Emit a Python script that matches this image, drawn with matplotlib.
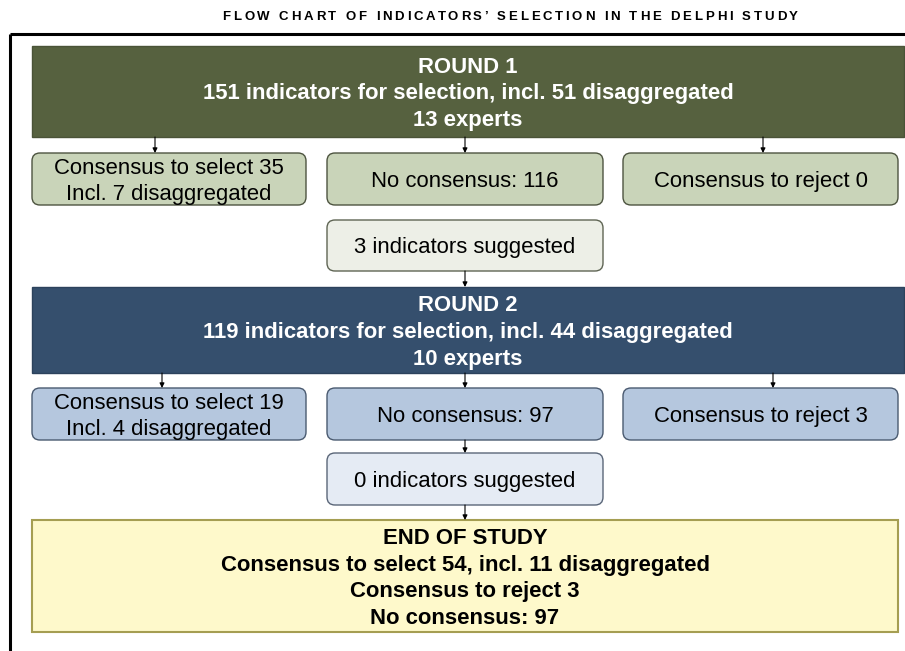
import matplotlib.pyplot as plt
from matplotlib.patches import FancyBboxPatch
from matplotlib.font_manager import FontProperties

plt.rcParams['font.family'] = ['Liberation Sans', 'DejaVu Sans']

title = "FLOW CHART OF INDICATORS\u2019 SELECTION IN THE DELPHI STUDY"

round1 = ["ROUND 1", "151 indicators for selection, incl. 51 disaggregated", "13 experts"]
round1_out = ["Consensus to select 35\nIncl. 7 disaggregated", "No consensus: 116", "Consensus to reject 0"]
round1_new = "3 indicators suggested"

round2 = ["ROUND 2", "119 indicators for selection, incl. 44 disaggregated", "10 experts"]
round2_out = ["Consensus to select 19\nIncl. 4 disaggregated", "No consensus: 97", "Consensus to reject 3"]
round2_new = "0 indicators suggested"

end_text = ["END OF STUDY", "Consensus to select 54, incl. 11 disaggregated",
            "Consensus to reject 3", "No consensus: 97"]

W, H = 905, 651
fig = plt.figure(figsize=(W / 100, H / 100), dpi=100)
ax = fig.add_axes([0, 0, 1, 1])
ax.set_xlim(0, W)
ax.set_ylim(H, 0)
ax.axis('off')


def box(x0, y0, x1, y1, fc, ec, text, bold=False, color='black', rounded=False, lw=1.0):
    style = "round,pad=0,rounding_size=8" if rounded else "square,pad=0"
    ax.add_patch(FancyBboxPatch((x0, y0), x1 - x0, y1 - y0, boxstyle=style,
                                fc=fc, ec=ec, lw=lw))
    ax.text((x0 + x1) / 2, (y0 + y1) / 2 + 2.5, text, ha='center', va='center',
            fontsize=15.9, color=color, fontweight='bold' if bold else 'normal',
            linespacing=1.36)


def arrow(x, y0, y1):
    ax.annotate("", xy=(x, y1), xytext=(x, y0),
                arrowprops=dict(arrowstyle='-|>', color='black', lw=0.8,
                                mutation_scale=7, shrinkA=0, shrinkB=0))


# title with letter spacing, drawn char by char
renderer = fig.canvas.get_renderer()
fp = FontProperties(family='Liberation Sans', weight='bold', size=9.5)


def tw(s):
    w0, _, _ = renderer.get_text_width_height_descent("I", fp, ismath=False)
    w, _, _ = renderer.get_text_width_height_descent(s + "I", fp, ismath=False)
    return w - w0


spacing = 2.8
total = tw(title) + spacing * (len(title) - 1)
x_start = 510 - total / 2
for i, ch in enumerate(title):
    ax.text(x_start + tw(title[:i]) + spacing * i, 17, ch, ha='left', va='center',
            fontproperties=fp)

ax.plot([10, W], [34, 34], color='black', lw=2.2, solid_capstyle='butt')
ax.plot([10, 10], [34, H], color='black', lw=2.2, solid_capstyle='butt')

cols = [(32, 306), (327, 603), (623, 898)]

# round 1
box(32, 46, 904, 137, '#56613f', '#4a5337', "\n".join(round1), bold=True, color='white')
for (x0, x1), t, ax_x in zip(cols, round1_out, [155, 465, 763]):
    box(x0, 153, x1, 205, '#c9d4b9', '#4d5440', t, rounded=True)
    arrow(ax_x, 137, 153)
box(327, 220, 603, 271, '#edefe7', '#5f6554', round1_new, rounded=True)
arrow(465, 271, 287)

# round 2
box(32, 287, 904, 373, '#354f6d', '#2c425c', "\n".join(round2), bold=True, color='white')
for (x0, x1), t, ax_x in zip(cols, round2_out, [162, 465, 773]):
    box(x0, 388, x1, 440, '#b5c7de', '#4a5a70', t, rounded=True)
    arrow(ax_x, 373, 388)
arrow(465, 440, 453)
box(327, 453, 603, 505, '#e5ebf4', '#5a6678', round2_new, rounded=True)
arrow(465, 505, 520)

# end
box(32, 520, 898, 632, '#fef9cb', '#a59e52', "\n".join(end_text), bold=True, lw=1.5)

fig.savefig("out.png", dpi=100)
